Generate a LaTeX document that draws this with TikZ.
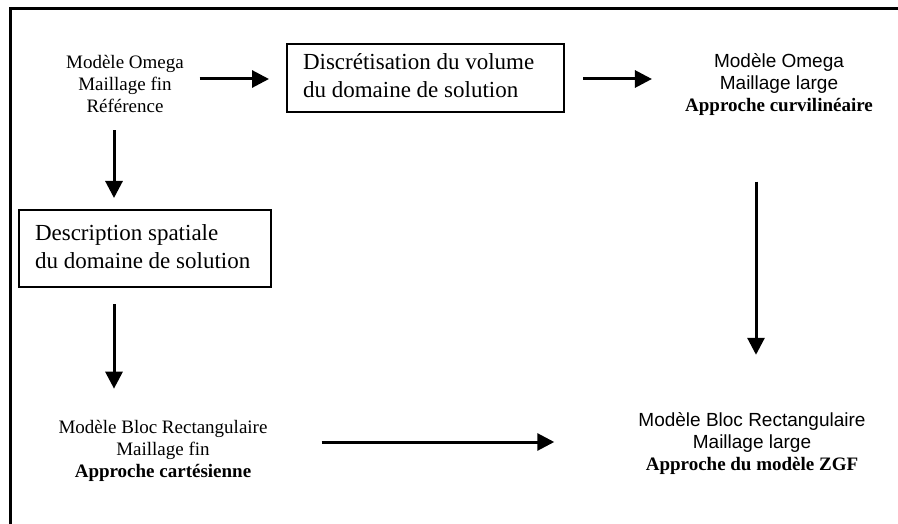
\documentclass[tikz,border=0pt]{standalone}
\usepackage{fontspec}
\setmainfont{Liberation Serif}
\newfontfamily\arialf{Liberation Sans}
\usetikzlibrary{arrows.meta,calc}
\newcommand{\twolines}[2]{\spaceskip=0pt\xspaceskip=0pt\begin{tabular}{@{}l@{}}#1\\#2\end{tabular}}
\begin{document}
\begin{tikzpicture}[x=1pt,y=-1pt,
  txt/.style={inner sep=0pt, align=center, font=\fontsize{19}{22}\selectfont},
  boxn/.style={draw, line width=2pt, inner xsep=16pt, inner ysep=0pt, align=left, font=\fontsize{23}{28}\selectfont},
  arr/.style={line width=3pt, -{Triangle[length=17pt,width=17pt]}},
  frameline/.style={line width=3pt}]
\useasboundingbox (0,0) rectangle (898,524);
\fill[white] (0,0) rectangle (898,524);
\draw[frameline] (898,9) -- (10,9) -- (10,524);

\node[txt] (A) at (125,83.5) {Modèle Omega\\Maillage fin\\Référence};
\node[boxn, text width=245pt, minimum height=68pt] (B) at (425.5,78)
  {\twolines{Discrétisation du volume}{du domaine de solution}};
\node[txt] (C) at (779,84.5) {{\arialf Modèle Omega}\\{\arialf Maillage large}\\\textbf{Approche curvilinéaire}};
\node[boxn, text width=220pt, minimum height=77pt] (B2) at (145,248.5)
  {\twolines{Description spatiale}{du domaine de solution}};
\node[txt] (E) at (163,450.5) {Modèle Bloc Rectangulaire\\Maillage fin\\\textbf{Approche cartésienne}};
\node[txt] (D) at (752,444) {{\arialf Modèle Bloc Rectangulaire}\\{\arialf Maillage large}\\\textbf{Approche du modèle ZGF}};

\draw[arr] ($(A.east)+(15.5,-4.5)$) -- ($(B.west)+(-17,1)$);
\draw[arr] ($(B.east)+(18,1)$) -- ($(C.west)+(-33,-5.5)$);
\draw[arr] ($(A.south)+(-11,18)$) -- ($(B2.north)+(-31,-11)$);
\draw[arr] ($(B2.south)+(-31,16)$) -- ($(E.north)+(-49,-31)$);
\draw[arr] ($(C.south)+(-23,66)$) -- ($(D.north)+(4,-58)$);
\draw[arr] ($(E.east)+(54,-8.5)$) -- ($(D.west)+(-84,-2)$);
\end{tikzpicture}
\end{document}
